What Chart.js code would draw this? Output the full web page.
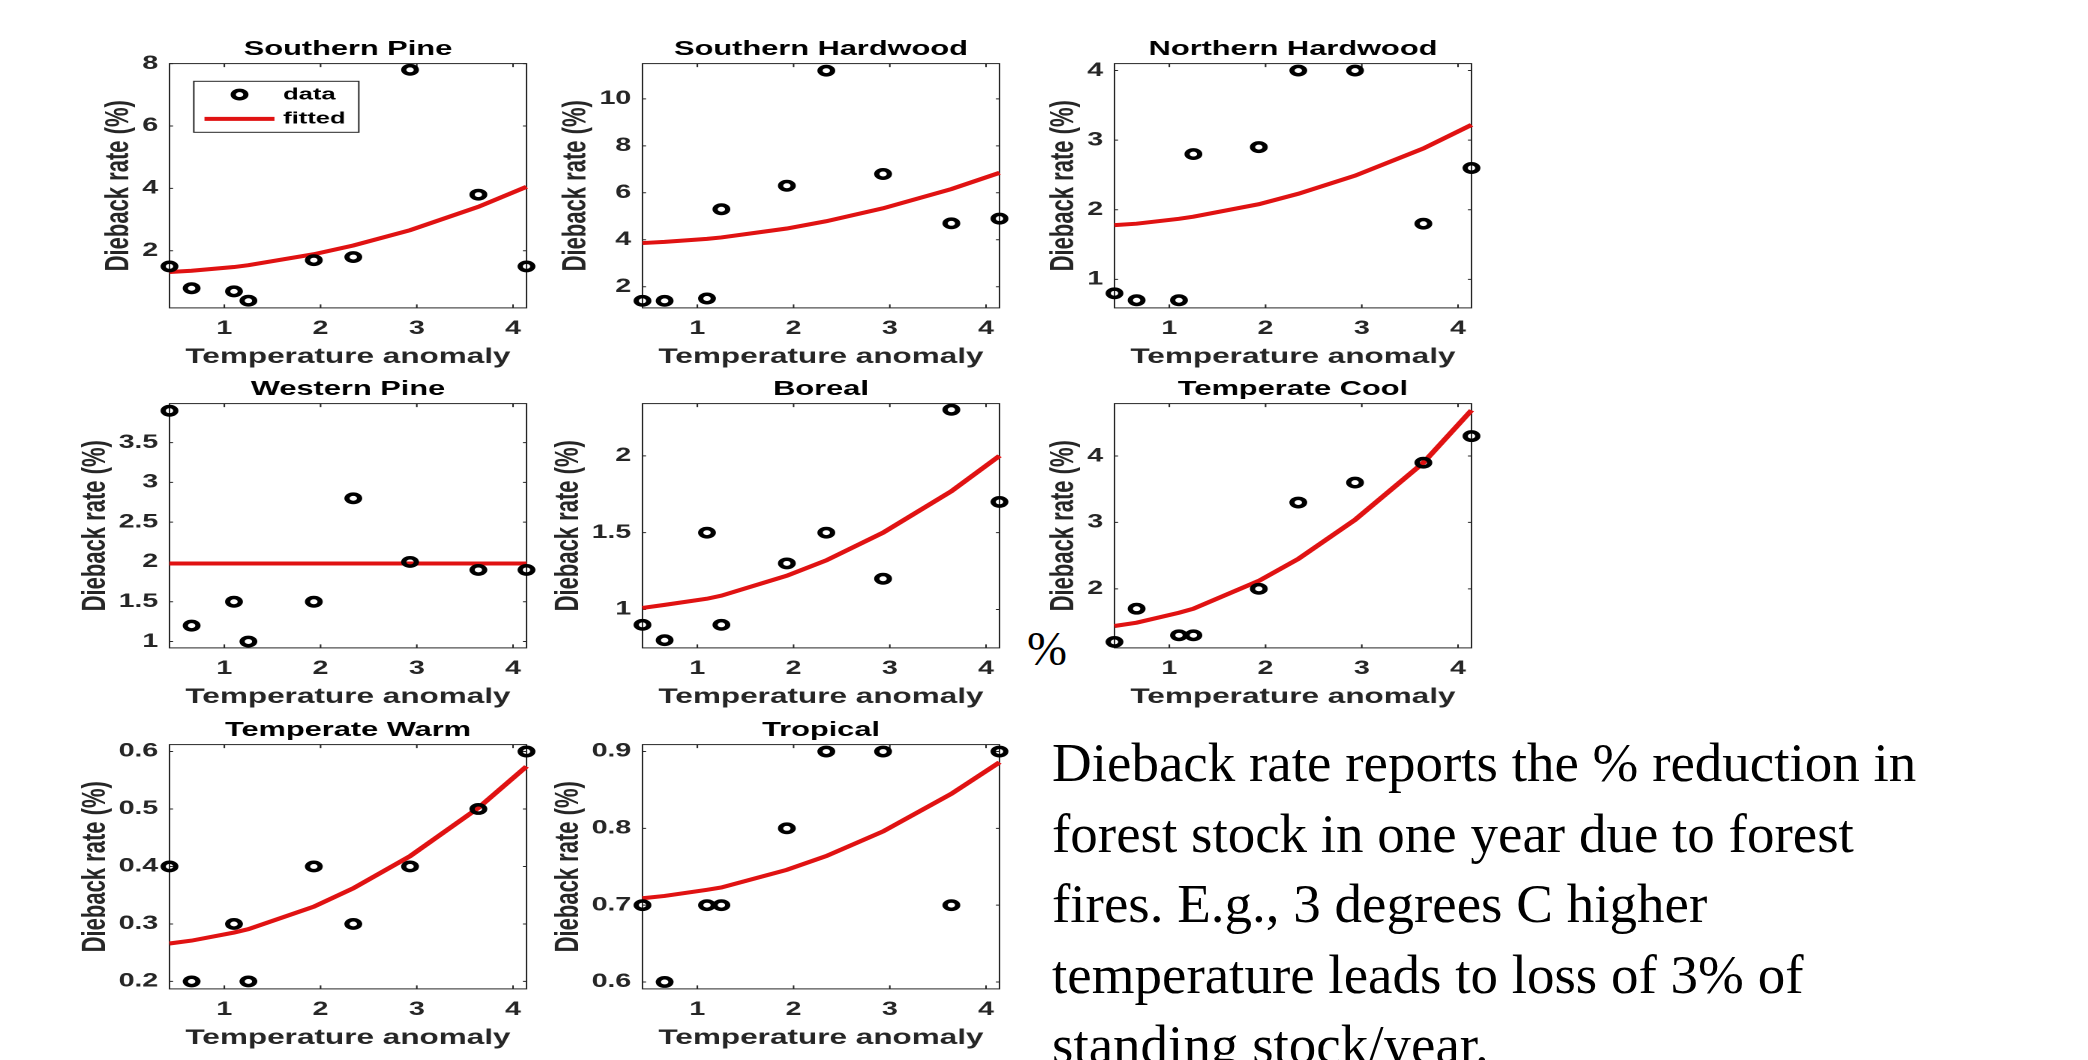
<!DOCTYPE html>
<html>
<head>
<meta charset="utf-8">
<script src="https://cdn.jsdelivr.net/npm/chart.js@4.4.1/dist/chart.umd.min.js"></script>
<style>
  html, body { margin: 0; padding: 0; background: #fff; }
  body { width: 2088px; height: 1060px; position: relative; overflow: hidden; }
  .panel { position: absolute; transform: scaleX(1.5); transform-origin: 0 0; }
  .note {
    position: absolute; left: 1052px; top: 728px;
    font: 55px/70.5px "Liberation Serif", "Times New Roman", serif;
    color: #000; white-space: nowrap;
  }
  .pct {
    position: absolute; left: 1027px; top: 625px;
    font: 48px/48px "Liberation Serif", "Times New Roman", serif; color: #000;
  }
</style>
</head>
<body>
<div class="pct">%</div>
<div class="note">Dieback rate reports the % reduction in<br>forest stock in one year due to forest<br>fires. E.g., 3 degrees C higher<br>temperature leads to loss of 3% of<br>standing stock/year.</div>

<script>
// temperature anomaly (x) shared by every panel
const anomaly = [0.43, 0.66, 1.1, 1.25, 1.93, 2.34, 2.93, 3.64, 4.14];
const xTicks = [1, 2, 3, 4];

const southernPine = [1.5, 0.8, 0.7, 0.4, 1.7, 1.8, 7.8, 3.8, 1.5];
const southernPineFit = [1.32, 1.36, 1.48, 1.54, 1.89, 2.17, 2.66, 3.41, 4.05];
const southernPineTicks = [2, 4, 6, 8];

const southernHardwood = [1.4, 1.4, 1.5, 5.3, 6.3, 11.2, 6.8, 4.7, 4.9];
const southernHardwoodFit = [3.86, 3.91, 4.04, 4.10, 4.48, 4.79, 5.34, 6.16, 6.85];
const southernHardwoodTicks = [2, 4, 6, 8, 10];

const northernHardwood = [0.8, 0.7, 0.7, 2.8, 2.9, 4.0, 4.0, 1.8, 2.6];
const northernHardwoodFit = [1.78, 1.80, 1.87, 1.90, 2.08, 2.23, 2.49, 2.88, 3.22];
const northernHardwoodTicks = [1, 2, 3, 4];

const westernPine = [3.9, 1.2, 1.5, 1.0, 1.5, 2.8, 2.0, 1.9, 1.9];
const westernPineFit = [1.98, 1.98, 1.98, 1.98, 1.98, 1.98, 1.98, 1.98, 1.98];
const westernPineTicks = [1, 1.5, 2, 2.5, 3, 3.5];

const boreal = [0.9, 0.8, 1.5, 0.9, 1.3, 1.5, 1.2, 2.3, 1.7];
const borealFit = [1.01, 1.03, 1.07, 1.09, 1.22, 1.32, 1.50, 1.77, 2.00];
const borealTicks = [1, 1.5, 2];

const temperateCool = [1.2, 1.7, 1.3, 1.3, 2.0, 3.3, 3.6, 3.9, 4.3];
const temperateCoolFit = [1.44, 1.49, 1.64, 1.70, 2.12, 2.45, 3.04, 3.90, 4.69];
const temperateCoolTicks = [2, 3, 4];

const temperateWarm = [0.4, 0.2, 0.3, 0.2, 0.4, 0.3, 0.4, 0.5, 0.6];
const temperateWarmFit = [0.266, 0.271, 0.285, 0.291, 0.330, 0.362, 0.418, 0.502, 0.574];
const temperateWarmTicks = [0.2, 0.3, 0.4, 0.5, 0.6];

const tropical = [0.7, 0.6, 0.7, 0.7, 0.8, 0.9, 0.9, 0.7, 0.9];
const tropicalFit = [0.709, 0.712, 0.720, 0.723, 0.746, 0.764, 0.796, 0.845, 0.886];
const tropicalTicks = [0.6, 0.7, 0.8, 0.9];

const FONT = '"Liberation Sans", Arial, Helvetica, sans-serif';
const AXIS = '#262626';
const SX = 1.5;            // the figure is stretched sideways
const PAD_L = 85, Y_W = 45, PAD_R = 12;
const W = 335, H = 339;
const TOP_SPACE = 32.6;
const TICK_PX = 19;
const plotLeft = [169.3, 642.3, 1114.7];
const plotTop = [63.3, 403.3, 744.3];

const framePlugin = {
    id: 'frame',
    beforeDatasetsDraw(chart) {
        const {ctx, chartArea: a, scales: {x, y}} = chart;
        ctx.save();
        ctx.strokeStyle = AXIS;
        ctx.lineWidth = 1;
        ctx.strokeRect(a.left, a.top, a.width, a.height);
        ctx.beginPath();
        x.ticks.forEach(t => {
            const px = x.getPixelForValue(t.value);
            ctx.moveTo(px, a.bottom); ctx.lineTo(px, a.bottom - 3.5);
            ctx.moveTo(px, a.top); ctx.lineTo(px, a.top + 3.5);
        });
        y.ticks.forEach(t => {
            const py = y.getPixelForValue(t.value);
            ctx.moveTo(a.left, py); ctx.lineTo(a.left + 2.4, py);
            ctx.moveTo(a.right, py); ctx.lineTo(a.right - 2.4, py);
        });
        ctx.stroke();

        // y axis label, placed just left of the tick labels
        ctx.font = 'bold ' + TICK_PX + 'px ' + FONT;
        const widest = Math.max(...y.ticks.map(t => ctx.measureText(String(t.label)).width));
        const lx = a.left - 7.5 - widest - 9.3;
        ctx.translate(lx, (a.top + a.bottom) / 2);
        ctx.rotate(-Math.PI / 2);
        ctx.font = 'bold 22px ' + FONT;
        ctx.fillStyle = AXIS;
        ctx.textAlign = 'center';
        ctx.textBaseline = 'alphabetic';
        ctx.fillText('Dieback rate (%)', 0, 0);
        ctx.restore();
    },
    afterDraw(chart, args, opts) {
        if (!opts.legend) return;
        const {ctx, chartArea: a} = chart;
        const ds = chart.data.datasets;
        const bx = a.left + 16.2, by = a.top + 17.7;
        ctx.save();
        ctx.fillStyle = '#fff';
        ctx.fillRect(bx, by, 110, 51);
        ctx.strokeStyle = AXIS;
        ctx.lineWidth = 1;
        ctx.strokeRect(bx, by, 110, 51);

        ctx.beginPath();
        ctx.arc(a.left + 46.7, a.top + 31, ds[0].pointRadius, 0, Math.PI * 2);
        ctx.strokeStyle = ds[0].pointBorderColor;
        ctx.lineWidth = ds[0].pointBorderWidth;
        ctx.stroke();

        ctx.beginPath();
        ctx.moveTo(a.left + 23.3, a.top + 55.3);
        ctx.lineTo(a.left + 70, a.top + 55.3);
        ctx.strokeStyle = ds[1].borderColor;
        ctx.lineWidth = ds[1].borderWidth;
        ctx.stroke();

        ctx.fillStyle = '#000';
        ctx.font = 'bold 17px ' + FONT;
        ctx.textBaseline = 'middle';
        ctx.fillText(ds[0].label, a.left + 75.8, a.top + 31);
        ctx.fillText(ds[1].label, a.left + 75.8, a.top + 55);
        ctx.restore();
    }
};

function makePanel(idx, title, values, fit, yTicks, yMin, yMax, withLegend) {
    const col = idx % 3, row = Math.floor(idx / 3);
    const div = document.createElement('div');
    div.className = 'panel';
    div.style.left = (plotLeft[col] - PAD_L * SX) + 'px';
    div.style.top = (plotTop[row] - TOP_SPACE) + 'px';
    const canvas = document.createElement('canvas');
    canvas.width = W;
    canvas.height = H;
    div.appendChild(canvas);
    document.body.appendChild(div);

    new Chart(canvas, {
        type: 'scatter',
        data: {
            datasets: [
                {
                    label: 'data',
                    data: anomaly.map((x, i) => ({x: x, y: values[i]})),
                    showLine: false,
                    pointStyle: 'circle',
                    pointRadius: 4.2,
                    pointBorderWidth: 3.5,
                    pointBackgroundColor: 'rgba(0,0,0,0)',
                    pointBorderColor: '#000',
                    borderColor: '#000',
                    clip: false,
                    order: 0
                },
                {
                    label: 'fitted',
                    data: anomaly.map((x, i) => ({x: x, y: fit[i]})),
                    showLine: true,
                    pointRadius: 0,
                    borderColor: '#e01212',
                    borderWidth: 4,
                    fill: false,
                    clip: false,
                    order: 1
                }
            ]
        },
        options: {
            responsive: false,
            animation: false,
            devicePixelRatio: 2,
            layout: {
                padding: {left: PAD_L - Y_W, right: PAD_R, top: 0, bottom: 0}
            },
            plugins: {
                legend: {display: false},
                tooltip: {enabled: false},
                title: {
                    display: true,
                    text: title,
                    fullSize: false,
                    color: '#000',
                    font: {family: FONT, size: 20.5, weight: 'bold'},
                    padding: {top: 6, bottom: 2}
                },
                frame: {legend: withLegend}
            },
            scales: {
                x: {
                    type: 'linear',
                    min: 0.43,
                    max: 4.14,
                    afterBuildTicks: s => { s.ticks = xTicks.map(v => ({value: v})); },
                    grid: {display: false, drawTicks: false},
                    border: {display: false},
                    ticks: {
                        color: AXIS,
                        padding: 9.6,
                        font: {family: FONT, size: TICK_PX, weight: 'bold'},
                        callback: v => String(v)
                    },
                    title: {
                        display: true,
                        text: 'Temperature anomaly',
                        color: AXIS,
                        font: {family: FONT, size: 21, weight: 'bold'},
                        padding: {top: -5.1, bottom: 0}
                    }
                },
                y: {
                    type: 'linear',
                    min: yMin,
                    max: yMax,
                    afterBuildTicks: s => { s.ticks = yTicks.map(v => ({value: v})); },
                    afterFit: s => { s.width = Y_W; },
                    grid: {display: false, drawTicks: false},
                    border: {display: false},
                    ticks: {
                        color: AXIS,
                        padding: 7.5,
                        font: {family: FONT, size: TICK_PX, weight: 'bold'},
                        callback: v => String(v)
                    }
                }
            }
        },
        plugins: [framePlugin]
    });
}

makePanel(0, 'Southern Pine', southernPine, southernPineFit, southernPineTicks, 0.17, 8, true);
makePanel(1, 'Southern Hardwood', southernHardwood, southernHardwoodFit, southernHardwoodTicks, 1.1, 11.5, false);
makePanel(2, 'Northern Hardwood', northernHardwood, northernHardwoodFit, northernHardwoodTicks, 0.59, 4.1, false);
makePanel(3, 'Western Pine', westernPine, westernPineFit, westernPineTicks, 0.92, 3.99, false);
makePanel(4, 'Boreal', boreal, borealFit, borealTicks, 0.75, 2.34, false);
makePanel(5, 'Temperate Cool', temperateCool, temperateCoolFit, temperateCoolTicks, 1.11, 4.79, false);
makePanel(6, 'Temperate Warm', temperateWarm, temperateWarmFit, temperateWarmTicks, 0.187, 0.612, false);
makePanel(7, 'Tropical', tropical, tropicalFit, tropicalTicks, 0.591, 0.909, false);
</script>
</body>
</html>
